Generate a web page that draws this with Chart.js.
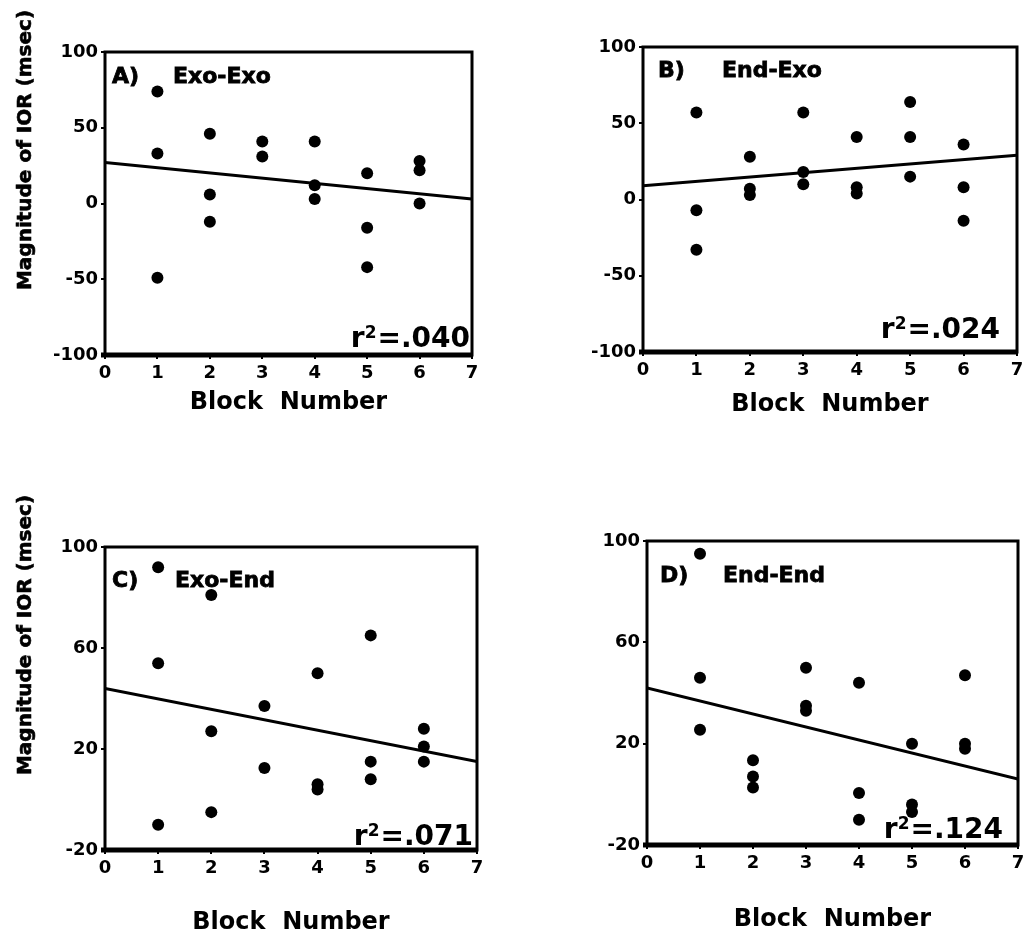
<!DOCTYPE html>
<html>
<head>
<meta charset="utf-8">
<script src="https://cdn.jsdelivr.net/npm/chart.js@4.4.1/dist/chart.umd.min.js"></script>
<style>
  html, body { margin: 0; padding: 0; background: #fff; }
  body { width: 1029px; height: 937px; position: relative; overflow: hidden; }
  canvas { position: absolute; }
  .ytitle {
    position: absolute;
    font: bold 20px "DejaVu Sans", sans-serif;
    color: #000;
    -webkit-text-stroke: 0.6px #000;
    white-space: nowrap;
    transform: translate(-50%, -50%) rotate(-90deg);
  }
</style>
</head>
<body>
<canvas id="cA"></canvas>
<canvas id="cB"></canvas>
<canvas id="cC"></canvas>
<canvas id="cD"></canvas>
<div class="ytitle" style="left:24px; top:150px;">Magnitude of IOR (msec)</div>
<div class="ytitle" style="left:24px; top:635px;">Magnitude of IOR (msec)</div>
<script>
// block numbers on the x axis
const blockTicks = [0, 7, 1];          // min, max, step
const fitBlocks = [0, 7];              // ends of the regression line

// A) Exo-Exo
const exoExoBlock = [1, 1, 1, 2, 2, 2, 3, 3, 4, 4, 4, 5, 5, 5, 6, 6, 6];
const exoExoIOR   = [74, 33, -49, 46, 6, -12, 41, 31, 41, 12, 3, 20, -16, -42, 28, 22, 0];
const exoExoFit   = [27, 3];

// B) End-Exo
const endExoBlock = [1, 1, 1, 2, 2, 2, 3, 3, 3, 4, 4, 4, 5, 5, 5, 6, 6, 6];
const endExoIOR   = [57, -7, -33, 28, 7, 3, 57, 18, 10, 41, 8, 4, 64, 41, 15, 36, 8, -14];
const endExoFit   = [9, 29];

// C) Exo-End
const exoEndBlock = [1, 1, 1, 2, 2, 2, 3, 3, 4, 4, 4, 5, 5, 5, 6, 6, 6];
const exoEndIOR   = [92, 54, -10, 81, 27, -5, 37, 12.5, 50, 6, 4, 65, 15, 8, 28, 21, 15];
const exoEndFit   = [44, 15];

// D) End-End
const endEndBlock = [1, 1, 1, 2, 2, 2, 3, 3, 3, 4, 4, 4, 5, 5, 5, 6, 6, 6];
const endEndIOR   = [95, 46, 25.5, 13.5, 7, 2.7, 50, 35, 33, 44, 0.5, -10, 20, -4, -7, 47, 20, 18];
const endEndFit   = [42, 6];

// y axis ticks: [min, max, step]
const yTicksTop = [-100, 100, 50];
const yTicksBottom = [-20, 100, 40];

const FONT = '"DejaVu Sans", sans-serif';

const panelText = {
  id: 'panelText',
  beforeDatasetsDraw(chart) {
    const { ctx, chartArea: a } = chart;
    ctx.save();
    ctx.strokeStyle = '#000';
    ctx.lineWidth = 3;
    ctx.strokeRect(a.left, a.top, a.right - a.left, a.bottom - a.top);
    ctx.lineWidth = 5;
    ctx.beginPath();
    ctx.moveTo(a.left - 4, a.bottom);
    ctx.lineTo(a.right + 1, a.bottom);
    ctx.stroke();
    ctx.restore();
  },
  afterDatasetsDraw(chart, args, o) {
    const { ctx, chartArea: a } = chart;
    ctx.save();
    ctx.fillStyle = '#000';
    ctx.strokeStyle = '#000';
    ctx.lineWidth = 0.8;
    ctx.textBaseline = 'alphabetic';
    ctx.textAlign = 'left';
    ctx.font = `bold 22px ${FONT}`;
    ctx.fillText(o.letter, a.left + o.lx, a.top + o.ly);
    ctx.strokeText(o.letter, a.left + o.lx, a.top + o.ly);
    ctx.fillText(o.name, a.left + o.nx, a.top + o.ly);
    ctx.strokeText(o.name, a.left + o.nx, a.top + o.ly);

    // r² text, right aligned
    const big = `bold 28px ${FONT}`, small = `bold 17px ${FONT}`;
    ctx.font = big;
    const wr = ctx.measureText('r').width;
    const wv = ctx.measureText('=' + o.r2).width;
    ctx.font = small;
    const w2 = ctx.measureText('2').width;
    const base = a.bottom - o.rb;
    let x = a.right - o.rr - (wr + w2 + 1 + wv);
    ctx.font = big;
    ctx.fillText('r', x, base);
    x += wr;
    ctx.font = small;
    ctx.fillText('2', x, base - 9);
    x += w2 + 1;
    ctx.font = big;
    ctx.fillText('=' + o.r2, x, base);
    ctx.restore();
  }
};

function makePanel(id, box, blocks, ior, fit, yTicks, text) {
  const canvas = document.getElementById(id);
  canvas.width = box.w;
  canvas.height = box.h;
  canvas.style.left = box.x + 'px';
  canvas.style.top = box.y + 'px';
  const yWidth = box.left - box.x;
  const xHeight = box.y + box.h - box.bottom;

  return new Chart(canvas, {
    type: 'scatter',
    data: {
      datasets: [
        {
          data: blocks.map((b, i) => ({ x: b, y: ior[i] })),
          pointRadius: 6,
          pointBackgroundColor: '#000',
          pointBorderWidth: 0
        },
        {
          type: 'line',
          data: fitBlocks.map((b, i) => ({ x: b, y: fit[i] })),
          borderColor: '#000',
          borderWidth: 3,
          pointRadius: 0,
          fill: false
        }
      ]
    },
    options: {
      responsive: false,
      animation: false,
      layout: {
        padding: { left: 0, top: box.top - box.y, right: box.x + box.w - box.right, bottom: 0 }
      },
      plugins: {
        legend: { display: false },
        tooltip: { enabled: false },
        panelText: text
      },
      scales: {
        x: {
          type: 'linear',
          min: blockTicks[0],
          max: blockTicks[1],
          afterFit(scale) { scale.height = xHeight; },
          ticks: { stepSize: blockTicks[2], color: '#000', padding: 4, font: { family: FONT, weight: 'bold', size: 18 } },
          grid: { drawOnChartArea: false, color: '#000', lineWidth: 2, tickLength: 4 },
          border: { display: false },
          title: {
            display: true,
            text: 'Block  Number',
            color: '#000',
            padding: 0,
            font: { family: FONT, weight: 'bold', size: 24 }
          }
        },
        y: {
          min: yTicks[0],
          max: yTicks[1],
          afterFit(scale) { scale.width = yWidth; },
          ticks: { stepSize: yTicks[2], color: '#000', padding: 3, font: { family: FONT, weight: 'bold', size: 18 } },
          grid: { drawOnChartArea: false, color: '#000', lineWidth: 2, tickLength: 4 },
          border: { display: false }
        }
      }
    },
    plugins: [panelText]
  });
}

makePanel('cA', { x: 0, y: 0, w: 510, h: 417, left: 105, top: 52, right: 472, bottom: 355 },
  exoExoBlock, exoExoIOR, exoExoFit, yTicksTop,
  { letter: 'A)', name: 'Exo-Exo', lx: 7, nx: 68, ly: 31, r2: '.040', rr: 2, rb: 8 });

makePanel('cB', { x: 540, y: 0, w: 489, h: 419, left: 643, top: 47, right: 1017, bottom: 352 },
  endExoBlock, endExoIOR, endExoFit, yTicksTop,
  { letter: 'B)', name: 'End-Exo', lx: 15, nx: 79, ly: 30, r2: '.024', rr: 17, rb: 14 });

makePanel('cC', { x: 0, y: 470, w: 510, h: 467, left: 105, top: 547, right: 477, bottom: 850 },
  exoEndBlock, exoEndIOR, exoEndFit, yTicksBottom,
  { letter: 'C)', name: 'Exo-End', lx: 7, nx: 70, ly: 40, r2: '.071', rr: 4, rb: 5 });

makePanel('cD', { x: 540, y: 470, w: 489, h: 464, left: 647, top: 541, right: 1018, bottom: 845 },
  endEndBlock, endEndIOR, endEndFit, yTicksBottom,
  { letter: 'D)', name: 'End-End', lx: 13, nx: 76, ly: 41, r2: '.124', rr: 15, rb: 7 });
</script>
</body>
</html>
